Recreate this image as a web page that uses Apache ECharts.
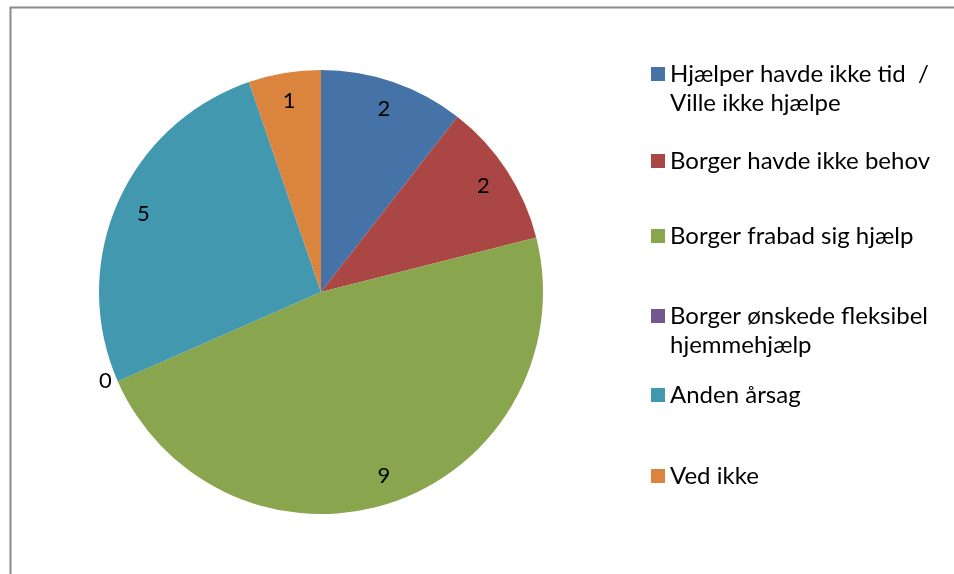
<!DOCTYPE html>
<html>
<head>
<meta charset="utf-8">
<script src="https://cdn.jsdelivr.net/npm/echarts@6/dist/echarts.min.js"></script>
<style>
html,body{margin:0;padding:0;background:#fff;}
#chart{width:954px;height:574px;}
</style>
</head>
<body>
<div id="chart"></div>
<script>
// ---- data ----
const categories = [
  'Hjælper havde ikke tid / Ville ikke hjælpe',
  'Borger havde ikke behov',
  'Borger frabad sig hjælp',
  'Borger ønskede fleksibel hjemmehjælp',
  'Anden årsag',
  'Ved ikke'
];
const values = [2, 2, 9, 0, 5, 1];
const colors = ['#4572A7', '#AA4643', '#89A54E', '#71588F', '#4198AF', '#DB843D'];
// legend text as displayed (with line breaks)
const legendLines = [
  ['Hjælper havde ikke tid  /', 'Ville ikke hjælpe'],
  ['Borger havde ikke behov'],
  ['Borger frabad sig hjælp'],
  ['Borger ønskede fleksibel', 'hjemmehjælp'],
  ['Anden årsag'],
  ['Ved ikke']
];

// ---- layout ----
const FONT = 'Lato';
const LINE_H = 29;
const legendIconCenters = [74, 161, 236, 316, 395, 476];
const center = [321, 292];
const R = 222;

const chart = echarts.init(document.getElementById('chart'));

const legends = categories.map((name, i) => {
  const lines = legendLines[i];
  const multi = lines.length > 1;
  // for two-line items, a leading empty line keeps the icon level with the first line
  const text = multi ? '\n' + lines.join('\n') : lines[0];
  const nLines = multi ? 3 : 1;
  return {
    data: [name],
    left: 651,
    top: legendIconCenters[i] - nLines * LINE_H / 2,
    orient: 'vertical',
    padding: 0,
    itemWidth: 14,
    itemHeight: 14,
    itemGap: 0,
    icon: 'rect',
    selectedMode: false,
    formatter: () => text,
    textStyle: {
      fontFamily: FONT,
      fontSize: 24,
      color: '#000',
      lineHeight: LINE_H
    }
  };
});

const pieData = categories.map((name, i) => ({
  name: name,
  value: values[i],
  itemStyle: { color: colors[i] }
}));

const labelData = categories.map((name, i) => ({
  name: name,
  value: values[i],
  label: values[i] === 0
    ? { position: 'outside', distanceToLabelLine: 6 }
    : { position: 'inside' },
  labelLine: { show: false, length: 0, length2: 0 }
}));

chart.setOption({
  animation: false,
  color: colors,
  legend: legends,
  graphic: [{
    type: 'rect',
    left: 8, top: 5,
    shape: { x: 0, y: 0, width: 1000, height: 600 },
    style: { fill: 'none', stroke: '#8a8a8a', lineWidth: 2 },
    z: -1
  }],
  series: [
    {
      type: 'pie',
      center: center,
      radius: [0, R],
      startAngle: 90,
      clockwise: true,
      silent: true,
      label: { show: false },
      labelLine: { show: false },
      itemStyle: { borderWidth: 0 },
      data: pieData
    },
    {
      type: 'pie',
      center: center,
      radius: [160, R],
      startAngle: 90,
      clockwise: true,
      silent: true,
      itemStyle: { color: 'rgba(0,0,0,0)', borderWidth: 0 },
      label: {
        show: true,
        formatter: '{c}',
        fontFamily: FONT,
        fontSize: 22,
        color: '#000'
      },
      labelLine: { show: false },
      avoidLabelOverlap: false,
      data: labelData
    }
  ]
});
</script>
</body>
</html>
